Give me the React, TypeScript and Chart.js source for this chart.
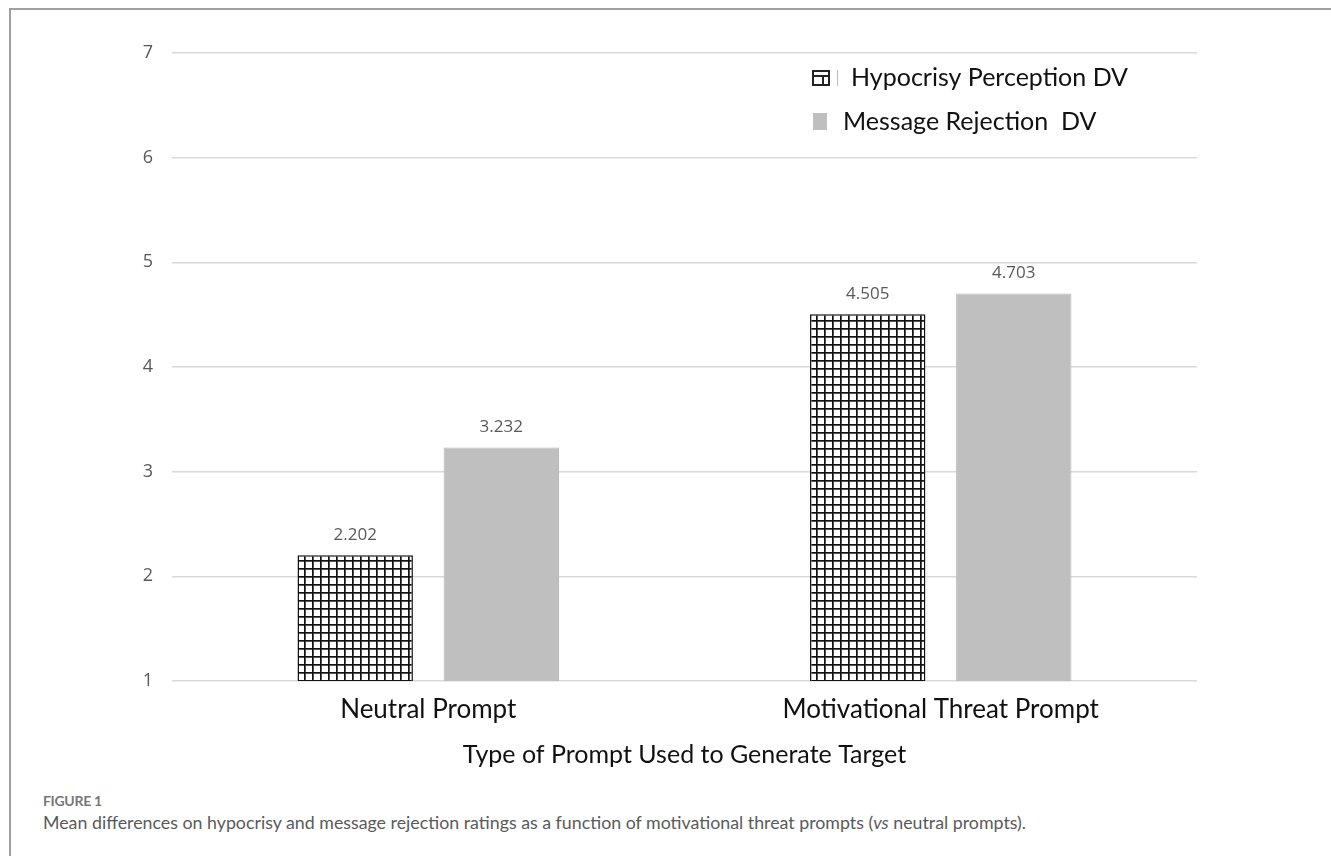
import React, { useEffect, useRef } from "react";
import { Chart, registerables } from "chart.js";

Chart.register(...registerables);

const categories = ["Neutral Prompt", "Motivational Threat Prompt"];
const hypocrisyValues = [2.202, 4.505];
const rejectionValues = [3.232, 4.703];
const seriesNames = ["Hypocrisy Perception DV", "Message Rejection  DV"];
const yTicks = [1, 2, 3, 4, 5, 6, 7];
const xTitle = "Type of Prompt Used to Generate Target";
const figureLabel = "FIGURE 1";

function makeHatch(): CanvasPattern | string {
  const c = document.createElement("canvas");
  c.width = 8;
  c.height = 8;
  const g = c.getContext("2d");
  if (!g) return "#fff";
  g.fillStyle = "#ffffff";
  g.fillRect(0, 0, 8, 8);
  g.fillStyle = "#111111";
  g.fillRect(0, 0, 8, 1.7);
  g.fillRect(0, 0, 1.7, 8);
  const p = g.createPattern(c, "repeat");
  return p || "#fff";
}

export default function App() {
  const ref = useRef<HTMLCanvasElement | null>(null);

  useEffect(() => {
    document.body.style.margin = "0";
    const canvas = ref.current;
    if (!canvas) return;
    const hatch = makeHatch();

    const overlay = {
      id: "overlay",
      afterDatasetsDraw(chart: any) {
        const ctx = chart.ctx;
        ctx.save();
        // data labels
        ctx.font = "17px 'Open Sans'";
        ctx.fillStyle = "#595959";
        ctx.textAlign = "center";
        ctx.textBaseline = "middle";
        chart.data.datasets.forEach((ds: any, i: number) => {
          const meta = chart.getDatasetMeta(i);
          meta.data.forEach((bar: any, j: number) => {
            ctx.fillText(ds.data[j].toFixed(3), bar.x, bar.y - 20);
          });
        });
        // legend
        const lx = 812;
        const y1 = 78;
        const y2 = 122;
        ctx.fillStyle = "#ffffff";
        ctx.fillRect(lx, y1 - 8, 18, 16);
        ctx.strokeStyle = "#222";
        ctx.lineWidth = 2;
        ctx.strokeRect(lx + 1, y1 - 7, 16, 14);
        ctx.beginPath();
        ctx.moveTo(lx + 1, y1 - 2);
        ctx.lineTo(lx + 17, y1 - 2);
        ctx.moveTo(lx + 11, y1 - 2);
        ctx.lineTo(lx + 11, y1 + 7);
        ctx.stroke();
        ctx.strokeStyle = "#bbbbbb";
        ctx.lineWidth = 1;
        ctx.beginPath();
        ctx.moveTo(837.5, y1 - 8);
        ctx.lineTo(837.5, y1 + 8);
        ctx.stroke();
        ctx.fillStyle = "#bfbfbf";
        ctx.fillRect(lx + 1, y2 - 9, 14, 17);
        ctx.fillStyle = "#111111";
        ctx.font = "25px Lato";
        ctx.textAlign = "left";
        ctx.fillText(seriesNames[0], 851, y1);
        ctx.fillText(seriesNames[1], 843, y2);
        ctx.restore();
      },
    };

    const chart = new Chart(canvas, {
      type: "bar",
      data: {
        labels: categories,
        datasets: [
          {
            label: seriesNames[0],
            data: hypocrisyValues,
            backgroundColor: hatch as any,
            borderColor: "#111111",
            borderWidth: 1.5,
            barPercentage: 0.79,
            categoryPercentage: 0.57,
          },
          {
            label: seriesNames[1],
            data: rejectionValues,
            backgroundColor: "#bfbfbf",
            borderColor: "#b8b8b8",
            borderWidth: 1,
            barPercentage: 0.79,
            categoryPercentage: 0.57,
          },
        ],
      },
      options: {
        responsive: false,
        animation: false,
        devicePixelRatio: 1,
        layout: { padding: { left: 0, right: 134, top: 53, bottom: 0 } },
        plugins: {
          legend: { display: false },
          tooltip: { enabled: false },
        },
        scales: {
          x: {
            grid: { display: false, drawTicks: false },
            border: { display: false },
            ticks: {
              color: "#111111",
              font: { family: "Lato", size: 26 },
              padding: 13,
            },
            title: {
              display: true,
              text: xTitle,
              color: "#111111",
              font: { family: "Lato", size: 25 },
              padding: { top: 0, bottom: 20 },
            },
            afterFit(scale: any) {
              scale.height = 109;
            },
          },
          y: {
            min: 1,
            max: 7,
            grid: { color: "#d9d9d9", lineWidth: 1.5, drawTicks: false },
            border: { display: false },
            afterBuildTicks(scale: any) {
              scale.ticks = yTicks.map((v) => ({ value: v }));
            },
            ticks: {
              color: "#595959",
              font: { family: "Open Sans", size: 18 },
              padding: 19,
            },
            afterFit(scale: any) {
              scale.width = 172;
            },
          },
        },
      },
      plugins: [overlay],
    });
    return () => chart.destroy();
  }, []);

  return (
    <div style={{ position: "relative", width: 1331, height: 856, background: "#fff", overflow: "hidden" }}>
      <div style={{ position: "absolute", left: 9, top: 8, width: 1322, height: 1.5, background: "#a0a0a0" }} />
      <div style={{ position: "absolute", left: 9, top: 8, width: 1.5, height: 848, background: "#a0a0a0" }} />
      <canvas ref={ref} width={1331} height={790} style={{ position: "absolute", left: 0, top: 0 }} />
      <div
        style={{
          position: "absolute",
          left: 43,
          top: 792,
          fontFamily: "Lato",
          fontSize: 14,
          fontWeight: 700,
          color: "#777777",
          letterSpacing: -0.3,
        }}
      >
        {figureLabel}
      </div>
      <div
        style={{
          position: "absolute",
          left: 43,
          top: 811,
          fontFamily: "Lato",
          fontSize: 17.8,
          color: "#5a5a5a",
          whiteSpace: "nowrap",
        }}
      >
        Mean differences on hypocrisy and message rejection ratings as a function of motivational threat prompts (<i>vs</i> neutral prompts).
      </div>
    </div>
  );
}
